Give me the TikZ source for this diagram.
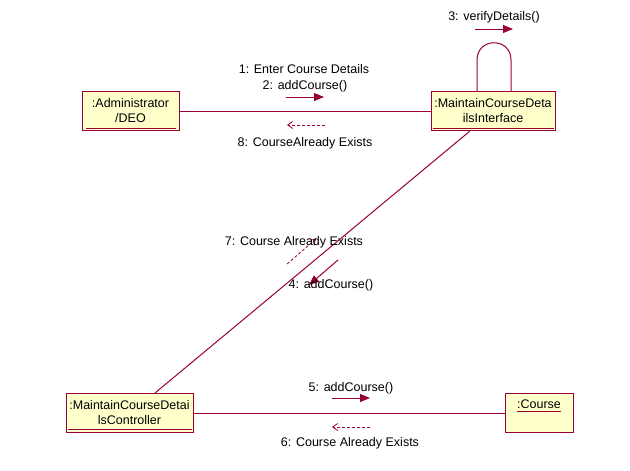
\documentclass[tikz,border=0pt]{standalone}
\usepackage{fontspec}
\setmainfont{Liberation Sans}
\usetikzlibrary{arrows.meta,positioning}
\definecolor{rosered}{RGB}{153,0,51}
\definecolor{roseyellow}{RGB}{255,255,204}

\begin{document}
\begin{tikzpicture}[
   x=1pt,y=-1pt,
   obj/.style={draw=rosered,fill=roseyellow,line width=1pt,align=center,
               font=\fontsize{12.5}{15}\selectfont,minimum height=39pt,inner sep=0pt},
   msg/.style={font=\fontsize{12.5}{15}\selectfont,inner sep=0pt,anchor=base},
   link/.style={rosered,line width=1pt},
   call/.style={rosered,line width=1pt,-{Triangle[length=10pt,width=8pt]}},
   ret/.style={rosered,line width=0.8pt,dash pattern=on 3pt off 2pt,
               -{Straight Barb[length=5pt,width=7pt]}}]
  \useasboundingbox (0,0) rectangle (630,471);
  % objects
  \node[obj,minimum width=97pt] (admin) at (130.5,111) {:Administrator\\/DEO};
  \node[obj,minimum width=124pt] (iface) at (493,111) {:MaintainCourseDeta\\ilsInterface};
  \node[obj,minimum width=127pt] (ctrl) at (129.5,413) {:MaintainCourseDetai\\lsController};
  \node[obj,minimum width=68pt] (course) at (539,413) {};
  \node[msg] (coursename) at (539,408) {:Course};
  \draw[link] ([shift={(4,-3)}]admin.south west) -- ([shift={(-4,-3)}]admin.south east);
  \draw[link] ([shift={(2,-3)}]iface.south west) -- ([shift={(-2,-3)}]iface.south east);
  \draw[link] ([shift={(2,-4)}]ctrl.south west) -- ([shift={(-2,-4)}]ctrl.south east);
  \draw[link] ([yshift=-3pt]coursename.base west) -- ([yshift=-3pt]coursename.base east);
  % links
  \draw[link] (admin.east) -- (iface.west);
  \draw[link] ([xshift=-23pt]iface.south) -- ([xshift=25.5pt]ctrl.north);
  \draw[link] (ctrl.east) -- (course.west);
  \draw[link] ([xshift=-16pt]iface.north) -- (477,60)
     .. controls (477,37) and (511,37) .. (511,60) -- ([xshift=18pt]iface.north);
  % messages
  \coordinate (m3a) at (475,29);  \coordinate (m3b) at (513,29);
  \coordinate (m2a) at (286,97);  \coordinate (m2b) at (324,97);
  \coordinate (m8a) at (325,125); \coordinate (m8b) at (287,125);
  \coordinate (m4a) at (338,260); \coordinate (m4b) at (309,285);
  \coordinate (m7a) at (287,264); \coordinate (m7b) at (316,239);
  \coordinate (m5a) at (332,398); \coordinate (m5b) at (370,398);
  \coordinate (m6a) at (370,427); \coordinate (m6b) at (332,427);
  \draw[call] (m3a) -- (m3b);
  \draw[call] (m2a) -- (m2b);
  \draw[ret] (m8a) -- (m8b);
  \draw[call] (m4a) -- (m4b);
  \draw[ret] (m7a) -- (m7b);
  \draw[call] (m5a) -- (m5b);
  \draw[ret] (m6a) -- (m6b);
  \node[msg] (l3) at (494,20) {3: verifyDetails()};
  \node[msg] (l1) at (304,73) {1: Enter Course Details};
  \node[msg] (l2) at (305,89) {2: addCourse()};
  \node[msg] (l8) at (305,146) {8: CourseAlready Exists};
  \node[msg] (l7) at (294,245) {7: Course Already Exists};
  \node[msg] (l4) at (331,288) {4: addCourse()};
  \node[msg] (l5) at (351,391) {5: addCourse()};
  \node[msg] (l6) at (350,446) {6: Course Already Exists};
\end{tikzpicture}
\end{document}
